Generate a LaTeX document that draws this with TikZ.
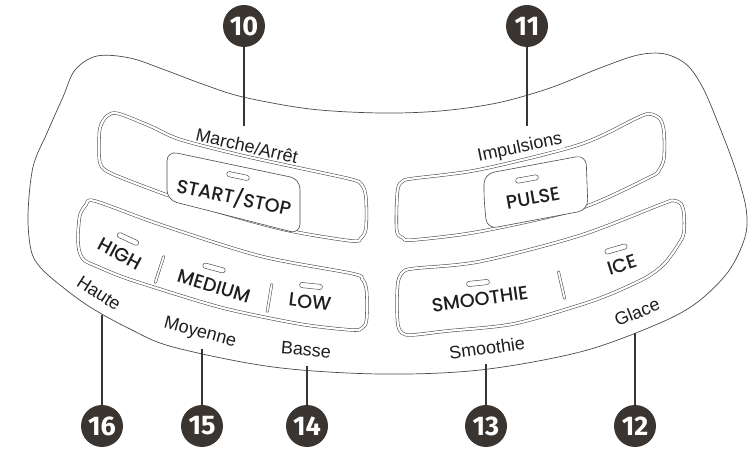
\documentclass[tikz,border=0pt]{standalone}
\usepackage{fontspec}
\setmainfont{Liberation Sans}
\newfontfamily\btnfont{Poppins}[UprightFont={* Medium}]
\newfontfamily\numfont{Fira Sans}
\definecolor{linegray}{HTML}{4A4A4A}
\definecolor{ink}{HTML}{1E1E1E}
\definecolor{numfill}{HTML}{3B3531}
\begin{document}
\begin{tikzpicture}[x=1pt,y=-1pt,
  outline/.style={draw=linegray, line width=0.7pt},
  panel/.style={draw=linegray, line width=0.55pt, double=white, double distance=2.2pt},
  btn/.style={draw=linegray, line width=0.6pt, fill=white, rounded corners=10pt},
  led/.style={draw=linegray, line width=0.5pt, rounded corners=2.6pt, minimum width=23pt, minimum height=5.2pt, inner sep=0pt},
  sepbar/.style={draw=linegray, line width=0.45pt, rounded corners=1pt, minimum width=2.4pt, minimum height=29pt, inner sep=0pt},
  btext/.style={font=\btnfont\fontsize{19}{21}\selectfont, text=ink, inner sep=0pt},
  ltext/.style={font=\fontsize{18}{20}\selectfont, text=ink, fill=white, inner sep=0.8pt},
  num/.style={circle, fill=numfill, text=white, minimum size=42pt, inner sep=0pt, font=\numfont\bfseries\fontsize{27}{27}\selectfont},
  leader/.style={draw=numfill, line width=2pt},
]
\useasboundingbox (0,0) rectangle (756,449);

% body outline
\draw[outline] plot[smooth cycle, tension=0.55] coordinates {
 (28,215) (33,167) (47,133) (63,97) (75,70) (97,56) (130,58) (165,70) (205,85)
 (243,97) (310,109) (380,113) (440,111) (497,103) (550,88) (600,68) (638,55)
 (665,54) (687,65) (703,88) (718,123) (735,168) (746,208) (745,237) (728,272)
 (695,304) (653,326) (580,352) (480,370) (380,374) (273,367) (173,347)
 (130,329) (90,307) (60,285) (40,267) (31,250)};

% panel 1 (START/STOP)
\draw[panel] plot[smooth cycle, tension=0.5] coordinates {
 (99,150) (100,128) (107,116) (118,113.5) (150,126) (180,139.5) (240,155)
 (297,167.5) (352,179.5)
 (362,185) (366,198) (366,228) (361,238) (352,241) (293,231.5) (240,218)
 (177,198.5) (122,178) (105,170) (100,163)};
% panel 3 (HIGH/MEDIUM/LOW)
\draw[panel] plot[smooth cycle, tension=0.5] coordinates {
 (78,235) (80,215) (86,205) (95,201) (160,224.5) (260,256) (352,273.5)
 (362,279) (366.5,290) (366.5,320) (362,328) (352,330) (300,324) (223,308)
 (150,286) (120,276) (96,266) (84,260) (79,250)};
% panel 2 (PULSE)
\draw[panel] plot[smooth cycle, tension=0.5] coordinates {
 (396.5,210) (398,188) (403,181) (413,178.5) (480,169.5) (580,144.5)
 (638,117.5) (650,114) (660,119) (664,132) (664,158) (659,170) (650,177)
 (580,208.5) (480,231.5) (413,240) (403,238) (397,232)};
% panel 4 (SMOOTHIE/ICE)
\draw[panel] plot[smooth cycle, tension=0.5] coordinates {
 (397,305) (398,282) (403,272) (414,268.5) (480,261.5) (580,235.5) (662,204)
 (673,200.5) (681,204) (684,214) (684,232) (680,242) (665,263) (647,277)
 (613,293) (580,305) (513,324) (447,331) (412,335) (402,333) (398,325)};

% buttons
\draw[btn] (167,175) -- (167,151) -- (300,179) -- (300,234) -- (167,200) -- cycle;
\draw[btn] (484,200) -- (484,174) -- (586,155) -- (588,210) -- (487,229) -- cycle;

% LEDs
\node[led, rotate=-12] (ledss) at (238,176) {};
\node[led, rotate=10] (ledpu) at (527,179) {};
\node[led, rotate=-25] (ledhi) at (128,239) {};
\node[led, rotate=-15] (ledme) at (214,268) {};
\node[led, rotate=-6] (ledlo) at (311,286) {};
\node[led, rotate=6] (ledsm) at (478,283) {};
\node[led, rotate=16] (ledic) at (616,249) {};

% separators
\node[sepbar, rotate=-18] (sepa) at (159.5,269.5) {};
\node[sepbar, rotate=-9.5] (sepb) at (269.5,298) {};
\node[sepbar, rotate=13] (sepc) at (561.5,285) {};

% button texts
\node[btext, rotate=-12] (tss) at (234,197) {START/STOP};
\node[btext, rotate=10] (tpu) at (533,198) {PULSE};
\node[btext, rotate=-28] (thi) at (120,254) {HIGH};
\node[btext, rotate=-17] (tme) at (214,286) {MEDIUM};
\node[btext, rotate=-7] (tlo) at (310,302) {LOW};
\node[btext, rotate=8] (tsm) at (480,299) {SMOOTHIE};
\node[btext, rotate=18] (tic) at (622,265) {ICE};

% labels
\node[ltext, rotate=-13] (l10) at (247,146) {Marche/Arrêt};
\node[ltext, rotate=12] (l11) at (520,148) {Impulsions};
\node[ltext, rotate=-33] (l16) at (99,293) {Haute};
\node[ltext, rotate=-15] (l15) at (200,333) {Moyenne};
\node[ltext, rotate=-5] (l14) at (306,350) {Basse};
\node[ltext, rotate=8] (l13) at (487,348) {Smoothie};
\node[ltext, rotate=22] (l12) at (637,312) {Glace};

% callouts
\node[num] (n10) at (244,26) {10};
\node[num] (n11) at (527,26) {11};
\node[num] (n16) at (102,426) {16};
\node[num] (n15) at (202,426) {15};
\node[num] (n14) at (307,426) {14};
\node[num] (n13) at (486,426) {13};
\node[num] (n12) at (635,426) {12};

\coordinate (e10) at (244,126);
\coordinate (e11) at (527,126);
\coordinate (e16) at (102,315);
\coordinate (e15) at (202,349);
\coordinate (e14) at (307,366);
\coordinate (e13) at (486,364);
\coordinate (e12) at (635,333);
\draw[leader] (n10) -- (e10);
\draw[leader] (n11) -- (e11);
\draw[leader] (n16) -- (e16);
\draw[leader] (n15) -- (e15);
\draw[leader] (n14) -- (e14);
\draw[leader] (n13) -- (e13);
\draw[leader] (n12) -- (e12);
\end{tikzpicture}
\end{document}
